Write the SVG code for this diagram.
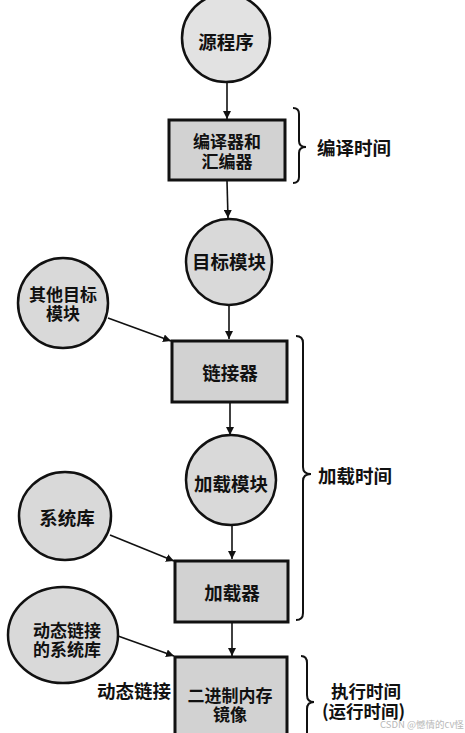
<svg xmlns="http://www.w3.org/2000/svg" width="465" height="733" viewBox="0 0 465 733">
<style>
.bg{fill:#ffffff}
.c{fill:#d9d9d9;stroke:#111;stroke-width:2.5}
.b{fill:#d2d2d2;stroke:#111;stroke-width:3}
.t{font-family:"Noto Sans CJK SC","Noto Sans",sans-serif;font-size:18.5px;font-weight:bold;fill:#111;text-anchor:middle;dominant-baseline:central}
.t2{font-family:"Noto Sans CJK SC","Noto Sans",sans-serif;font-size:17px;font-weight:bold;fill:#111;text-anchor:middle;dominant-baseline:central}
.l{font-family:"Noto Sans CJK SC","Noto Sans",sans-serif;font-size:18.5px;font-weight:bold;fill:#111;dominant-baseline:central}
.l2{font-family:"Noto Sans CJK SC","Noto Sans",sans-serif;font-size:17.5px;font-weight:bold;fill:#111;dominant-baseline:central}
.e{fill:none;stroke:#111;stroke-width:1.6}
.br{fill:none;stroke:#111;stroke-width:2}
.wm{font-family:"Noto Sans CJK SC","Noto Sans",sans-serif;font-size:9.5px;fill:#b8b8b8;dominant-baseline:central}
</style>
<defs>
<marker id="ah" viewBox="0 0 10 10" refX="10" refY="5" markerWidth="8" markerHeight="8" markerUnits="userSpaceOnUse" orient="auto">
<path d="M0,0 L10,5 L0,10 Z" fill="#111"/>
</marker>
</defs>
<rect class="bg" x="0" y="0" width="465" height="733"/>

<g id="connectors">
<line class="e" x1="227" y1="82" x2="227" y2="119" marker-end="url(#ah)"/>
<line class="e" x1="227" y1="181" x2="228" y2="218" marker-end="url(#ah)"/>
<line class="e" x1="229" y1="305" x2="229" y2="339" marker-end="url(#ah)"/>
<line class="e" x1="108" y1="318" x2="171" y2="341" marker-end="url(#ah)"/>
<line class="e" x1="230" y1="403" x2="230" y2="435" marker-end="url(#ah)"/>
<line class="e" x1="232" y1="526" x2="232" y2="559" marker-end="url(#ah)"/>
<line class="e" x1="110" y1="535" x2="174" y2="561" marker-end="url(#ah)"/>
<line class="e" x1="232" y1="623" x2="232" y2="656" marker-end="url(#ah)"/>
<line class="e" x1="118" y1="636" x2="174" y2="656" marker-end="url(#ah)"/>
</g>

<g id="n-source">
<circle class="c" cx="226" cy="38" r="44" style="fill:#e2e2e2"/>
<text class="t" x="226" y="41">源程序</text>
</g>

<g id="n-compiler">
<rect class="b" x="169" y="120" width="116" height="60"/>
<text class="t2" x="227" y="140">编译器和</text>
<text class="t2" x="227" y="160">汇编器</text>
</g>

<g id="n-object">
<circle class="c" cx="229" cy="262" r="43"/>
<text class="t" x="229" y="261">目标模块</text>
</g>

<g id="n-other">
<circle class="c" cx="63" cy="303" r="45"/>
<text class="t2" x="63" y="293">其他目标</text>
<text class="t2" x="63" y="312">模块</text>
</g>

<g id="n-linker">
<rect class="b" x="172" y="341" width="115" height="61"/>
<text class="t" x="230" y="372">链接器</text>
</g>

<g id="n-loadmod">
<circle class="c" cx="231" cy="480" r="45"/>
<text class="t" x="231" y="483">加载模块</text>
</g>

<g id="n-syslib">
<ellipse class="c" cx="65" cy="516" rx="46" ry="44"/>
<text class="t" x="67" y="517">系统库</text>
</g>

<g id="n-loader">
<rect class="b" x="175" y="561" width="113" height="61"/>
<text class="t" x="232" y="592">加载器</text>
</g>

<g id="n-dynlib">
<ellipse class="c" cx="63" cy="635" rx="55" ry="48"/>
<text class="t2" x="67" y="629">动态链接</text>
<text class="t2" x="67" y="648">的系统库</text>
</g>

<g id="n-image">
<rect class="b" x="175" y="657" width="112" height="90"/>
<text class="t2" x="230" y="694">二进制内存</text>
<text class="t2" x="230" y="713">镜像</text>
</g>

<g id="labels">
<text class="l" x="97" y="690">动态链接</text>
<path class="br" d="M293,108 Q299,108 299,114 L299,141 Q299,147 306,147 Q299,147 299,153 L299,177 Q299,183 293,183"/>
<text class="l" x="317" y="147">编译时间</text>
<path class="br" d="M296,336 Q303,336 303,343 L303,467 Q303,474 311,474 Q303,474 303,481 L303,613 Q303,620 296,620"/>
<text class="l" x="318" y="475">加载时间</text>
<path class="br" d="M301,656 Q307,656 307,663 L307,695 Q307,702 314,702 Q307,702 307,709 L307,745 Q307,752 301,752"/>
<text class="l2" x="331" y="690">执行时间</text>
<text class="l2" x="322" y="710">(运行时间)</text>
<text class="wm" x="380" y="724">CSDN @憾情的cv怪</text>
</g>
</svg>
